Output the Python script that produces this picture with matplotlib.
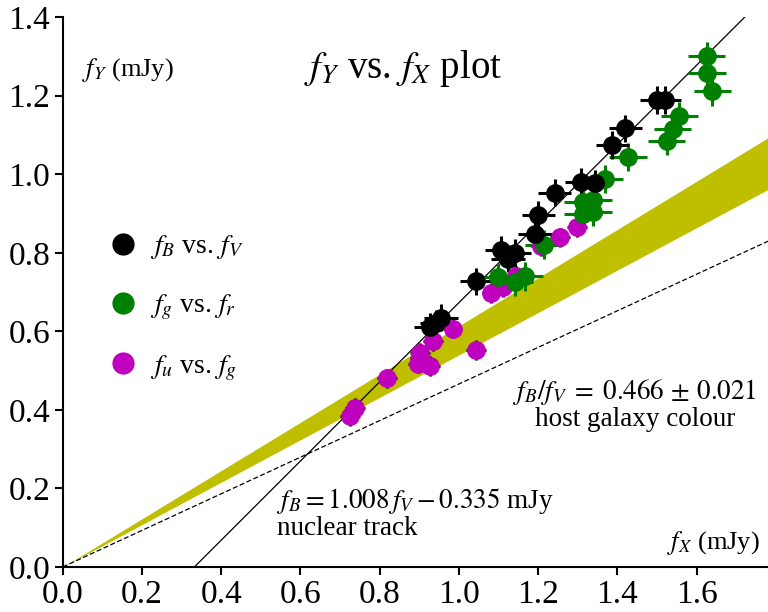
import matplotlib
matplotlib.use("Agg")
import matplotlib.pyplot as plt
import numpy as np

plt.rcParams['font.family'] = ['Liberation Serif', 'DejaVu Serif']
plt.rcParams['mathtext.fontset'] = 'stix'

# f_B vs f_V (black)
bv_x = [0.928, 0.943, 0.955, 1.044, 1.107, 1.124, 1.141, 1.192, 1.200, 1.242,
        1.309, 1.343, 1.387, 1.420, 1.500, 1.519]
bv_y = [0.612, 0.620, 0.635, 0.727, 0.807, 0.785, 0.800, 0.849, 0.896, 0.953,
        0.981, 0.977, 1.074, 1.117, 1.189, 1.189]
# f_g vs f_r (green)
gr_x = [1.099, 1.141, 1.166, 1.215, 1.313, 1.339, 1.313, 1.339, 1.368, 1.427,
        1.524, 1.539, 1.556, 1.625, 1.626, 1.639]
gr_y = [0.739, 0.726, 0.740, 0.821, 0.930, 0.934, 0.900, 0.904, 0.987, 1.044,
        1.084, 1.115, 1.148, 1.301, 1.259, 1.211]
# f_u vs f_g (magenta)
ug_x = [0.725, 0.737, 0.819, 0.897, 0.901, 0.901, 0.927, 0.935, 0.984, 1.043,
        1.082, 1.112, 1.145, 1.206, 1.256, 1.297]
ug_y = [0.385, 0.405, 0.480, 0.518, 0.531, 0.545, 0.512, 0.575, 0.607, 0.553,
        0.697, 0.713, 0.741, 0.817, 0.839, 0.866]

bv_xerr, bv_yerr = 0.042, 0.035
gr_xerr, gr_yerr = 0.047, 0.036
ug_xerr, ug_yerr = 0.025, 0.025

# lines
nuc_slope, nuc_icpt = 1.008, -0.335
host_slope = 0.466
band_lo, band_hi = 0.540, 0.614

fig = plt.figure(figsize=(7.68, 6.12), dpi=100)
ax = fig.add_axes([0.0816, 0.0735, 0.9184, 0.8985])
xmax = 1.78
ax.set_xlim(0, xmax)
ax.set_ylim(0, 1.4)

xs = np.array([0, xmax])
ax.fill_between(xs, band_lo * xs, band_hi * xs, color='y', lw=0, zorder=1)
ax.plot(xs, host_slope * xs, 'k--', lw=0.9, dashes=(4, 2), zorder=2)
xn = np.array([-nuc_icpt / nuc_slope, (1.4 - nuc_icpt) / nuc_slope])
ax.plot(xn, nuc_slope * xn + nuc_icpt, 'k-', lw=0.9, zorder=2)

kw = dict(fmt='o', ms=12.5, elinewidth=2.2, capsize=0, zorder=3)
ax.errorbar(ug_x, ug_y, xerr=ug_xerr, yerr=ug_yerr, color='m', ecolor='k', **kw)
ax.errorbar(gr_x, gr_y, xerr=gr_xerr, yerr=gr_yerr, color='g', ecolor='g', **kw)
ax.errorbar(bv_x, bv_y, xerr=bv_xerr, yerr=bv_yerr, color='k', ecolor='k', **kw)

h1, = ax.plot([], [], 'ko', ms=15)
h2, = ax.plot([], [], 'o', color='g', ms=15)
h3, = ax.plot([], [], 'o', color='m', ms=15)
ax.legend([h1, h2, h3],
          [r'$f_B$ vs. $f_V$', r'$f_g$ vs. $f_r$', r'$f_u$ vs. $f_g$'],
          loc='upper left', bbox_to_anchor=(0.027, 0.652), frameon=False,
          fontsize=20, labelspacing=1.12, handletextpad=0.35, handlelength=1.2)

ax.text(0.049, 1.265, r'$f_Y$ (mJy)', fontsize=19, ha='left', va='center')
ax.text(0.86, 1.27, r'$f_Y$ vs. $f_X$ plot', fontsize=28, ha='center', va='center')
ax.text(1.76, 0.06, r'$f_X$ (mJy)', fontsize=19, ha='right', va='center')
ax.text(1.445, 0.415, r'$f_B/f_V \;=\; 0.466 \,\pm\, 0.021$' + '\nhost galaxy colour',
        fontsize=19.5, ha='center', va='center', multialignment='center',
        linespacing=1.0)
ax.text(0.54, 0.137, r'$f_B = 1.008\,f_V - 0.335$ mJy' + '\nnuclear track',
        fontsize=19.5, ha='left', va='center', multialignment='left',
        linespacing=1.0)

ax.set_xticks(np.arange(0, 1.61, 0.2))
ax.set_yticks(np.arange(0, 1.41, 0.2))
ax.xaxis.set_major_formatter(matplotlib.ticker.FormatStrFormatter('%.1f'))
ax.yaxis.set_major_formatter(matplotlib.ticker.FormatStrFormatter('%.1f'))
ax.tick_params(direction='out', length=6, width=1.5, labelsize=24, pad=3)
for s in ['top', 'right']:
    ax.spines[s].set_visible(False)
for s in ['left', 'bottom']:
    ax.spines[s].set_linewidth(1.5)

fig.savefig('out.png', dpi=100)
